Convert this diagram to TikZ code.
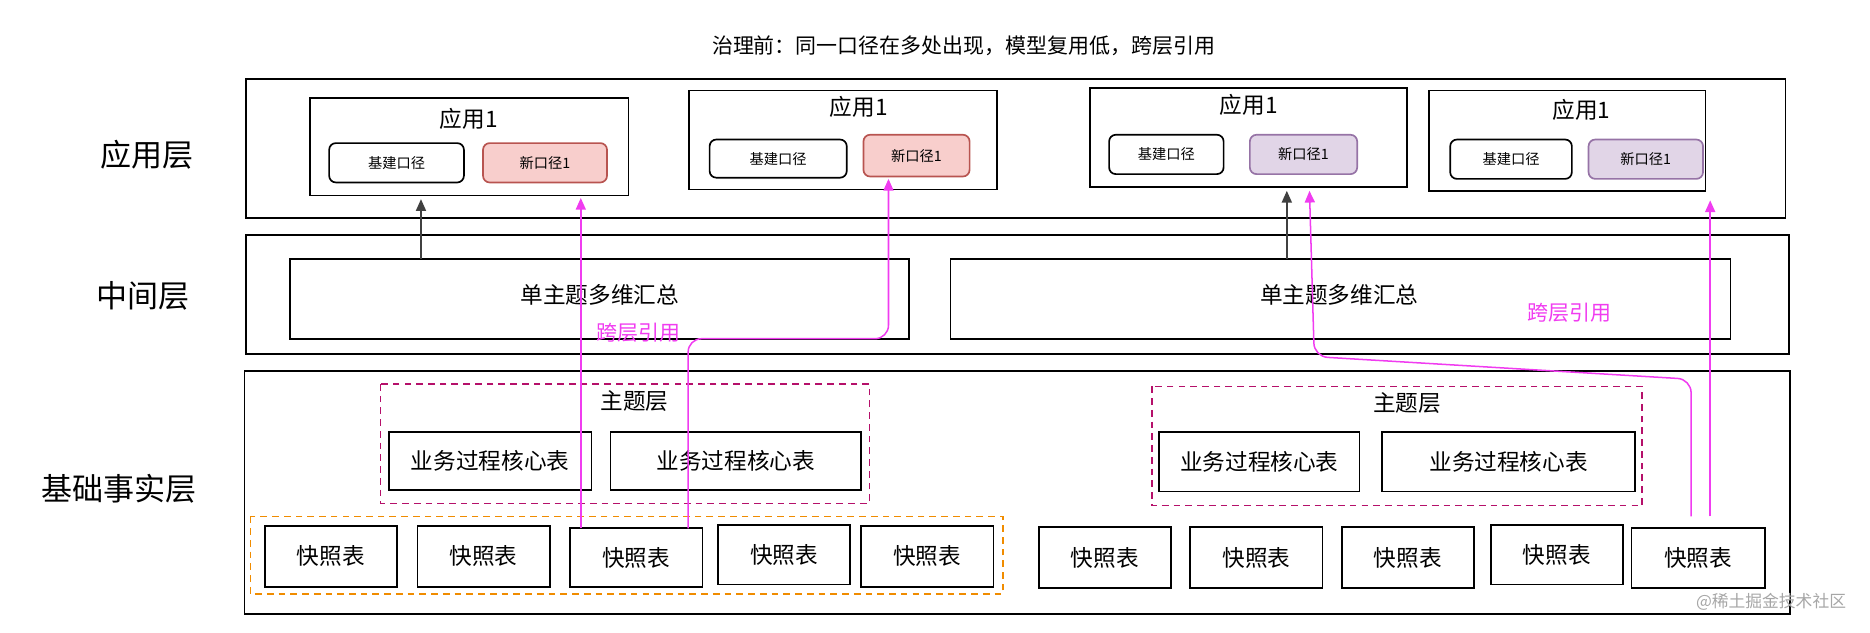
\documentclass[tikz,border=0pt]{standalone}
\usepackage{fontspec}
\setmainfont{Noto Sans CJK SC}
\usetikzlibrary{arrows.meta,calc}
\definecolor{mag}{HTML}{F03CF0}
\definecolor{redf}{HTML}{F8CECC}\definecolor{redd}{HTML}{B85450}
\definecolor{purf}{HTML}{E1D5E7}\definecolor{purd}{HTML}{9673A6}
\definecolor{dpur}{HTML}{B5106A}\definecolor{orng}{HTML}{F08C00}
\begin{document}
\begin{tikzpicture}[x=0.025cm,y=-0.025cm,line width=1pt,
 lay/.style={font=\fontsize{18.5}{20}\selectfont},
 app/.style={font=\fontsize{13.5}{15}\selectfont},
 sm/.style={font=\fontsize{8.5}{10}\selectfont},
 mid/.style={font=\fontsize{13.5}{15}\selectfont},
 mg/.style={draw=mag,line width=0.9pt,-{Triangle[length=7pt,width=6pt]},rounded corners=8pt},
 bk/.style={draw=black!75,line width=0.9pt,-{Triangle[length=7pt,width=6pt]}}]
\useasboundingbox (0,0) rectangle (1568,530);
\node[font=\fontsize{12.5}{14}\selectfont] (title) at (808,38) {治理前：同一口径在多处出现，模型复用低，跨层引用};
% layers
\draw (206,66) rectangle (1497,183);
\draw (206,197) rectangle (1500,297);
\draw (205,311) rectangle (1501,515);
\node[lay] (l1) at (123,130) {应用层};
\node[lay] (l2) at (120,248) {中间层};
\node[lay] (l3) at (100,410) {基础事实层};
% app boxes
\foreach \n/\a/\b/\c/\d/\tx/\ty/\ja/\jb/\jc/\jd/\xa/\xb/\xc/\xd/\f/\dr in {
 1/260/82/527/164/393/100/276/120/389/153/405/120/509/153/redf/redd,
 2/578/76/836/159/720/90/595/117/710/149/724/113/813/148/redf/redd,
 3/914/74/1180/157/1047/88/930/113/1026/146/1048/113/1138/146/purf/purd,
 4/1198/76/1430/160/1326/92/1216/117/1318/150/1332/117/1428/150/purf/purd}{
 \draw (\a,\b) rectangle (\c,\d);
 \node[app] (at\n) at (\tx,\ty) {应用1};
 \draw[rounded corners=4pt,fill=white] (\ja,\jb) rectangle (\jc,\jd);
 \node[sm] (j\n) at ({(\ja+\jc)/2},{(\jb+\jd)/2}) {基建口径};
 \draw[rounded corners=4pt,fill=\f,draw=\dr] (\xa,\xb) rectangle (\xc,\xd);
 \node[sm] (x\n) at ({(\xa+\xc)/2},{(\xb+\xd)/2}) {新口径1};
}
% middle
\draw (243,217) rectangle (762,284);
\node[mid] (m1) at (503,247) {单主题多维汇总};
\draw (797,217) rectangle (1451,284);
\node[mid] (m2) at (1123,247) {单主题多维汇总};
% theme boxes
\draw[dpur,line width=0.9pt,dash pattern=on 4pt off 3pt] (319,322) rectangle (729,422);
\draw[dpur,line width=0.9pt,dash pattern=on 4pt off 3pt] (966,324) rectangle (1377,424);
\node[mid] (t1) at (532,336) {主题层};
\node[mid] (t2) at (1180,338) {主题层};
\foreach \a/\b/\c/\d in {326/362/496/411,512/362/722/411,972/362/1140/412,1159/362/1371/412}{
 \draw (\a,\b) rectangle (\c,\d);
 \node[mid] at ({(\a+\c)/2},{(\b+\d)/2}) {业务过程核心表};}
\draw[orng,line width=0.9pt,dash pattern=on 4pt off 3pt] (210,433) rectangle (841,498);
\foreach \i/\a/\b/\c/\d in {1/222/441/333/492,2/350/441/461/492,3/478/443/589/492,4/602/440/713/490,5/722/441/833/492,6/871/442/982/493,7/998/442/1109/493,8/1125/442/1236/493,9/1250/440/1361/490,10/1368/443/1480/493}{
 \draw (\a,\b) rectangle (\c,\d);
 \node[mid] (s\i) at ({(\a+\c)/2},{(\b+\d)/2}) {快照表};}
% arrows
\draw[bk] (353,217) -- (353,167);
\draw[bk] (1079,217) -- (1079,160);
\draw[mg] (487,443) -- (487,166);
\draw[mg] (577,443) -- (577,284) -- (745,284) -- (745,150);
\draw[mg] (1418,433) -- (1418,318) -- (1102,299) -- (1098,160);
\draw[mg] (1434,433) -- (1434,168);
\node[text=mag,font=\fontsize{12.5}{14}\selectfont] at (535,279) {跨层引用};
\node[text=mag,font=\fontsize{12.5}{14}\selectfont] at (1316,262) {跨层引用};
\node[text=black!35,font=\fontsize{10}{11}\selectfont] at (1485,505) {@稀土掘金技术社区};
\end{tikzpicture}
\end{document}
